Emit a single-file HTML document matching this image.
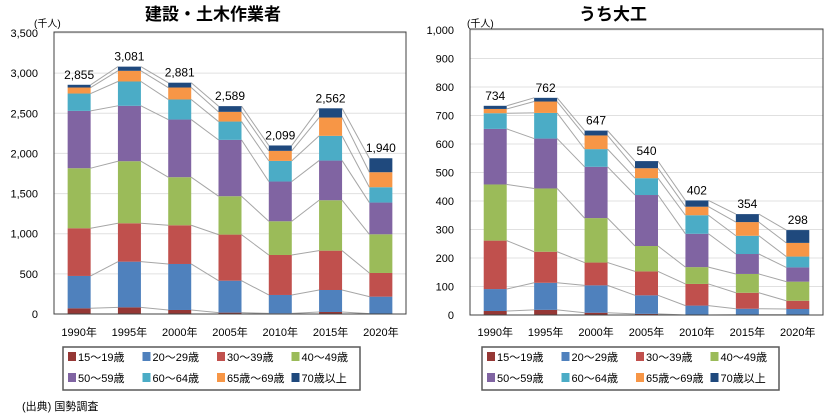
<!DOCTYPE html>
<html><head><meta charset="utf-8">
<style>
body{margin:0;background:#fff;width:832px;height:415px;overflow:hidden;font-family:"Liberation Sans","Noto Sans CJK JP",sans-serif;}
svg{position:absolute;left:0;top:0}
text{font-family:"Liberation Sans","Noto Sans CJK JP",sans-serif;}
</style></head>
<body>
<svg id="c" width="832" height="415"></svg>
<script>
const years = ["1990年","1995年","2000年","2005年","2010年","2015年","2020年"];
const ageGroups = ["15～19歳","20～29歳","30～39歳","40～49歳","50～59歳","60～64歳","65歳～69歳","70歳以上"];
const colors = ["#953735","#4F81BD","#C0504D","#9BBB59","#8064A2","#4BACC6","#F79646","#1F497D"];
// 建設・土木作業者 (thousand), series by age group across years
const lA15 = [71,83,50,17,8,25,4];
const lA20 = [403,569,573,398,229,274,212];
const lA30 = [594,478,482,574,498,490,295];
const lA40 = [748,773,599,478,420,628,482];
const lA50 = [714,690,718,702,495,494,395];
const lA60 = [216,303,250,228,257,308,191];
const lA65 = [75,133,149,121,125,228,187];
const lA70 = [34,52,60,71,67,115,174];
const leftTotals = ["2,855","3,081","2,881","2,589","2,099","2,562","1,940"];
const leftTicks = ["0","500","1,000","1,500","2,000","2,500","3,000","3,500"];
// うち大工
const rA15 = [14,18,8,4,0,1,1];
const rA20 = [77,95,96,65,33,21,20];
const rA30 = [170,109,80,84,76,56,29];
const rA40 = [197,222,156,89,59,66,67];
const rA50 = [195,175,180,179,117,70,50];
const rA60 = [55,90,62,59,65,64,38];
const rA65 = [15,40,48,35,30,48,48];
const rA70 = [11,13,17,25,22,28,45];
const rightTotals = ["734","762","647","540","402","354","298"];
const rightTicks = ["0","100","200","300","400","500","600","700","800","900","1,000"];

const NS="http://www.w3.org/2000/svg";
const svg=document.getElementById('c');
function mk(tag,attrs,parent){const e=document.createElementNS(NS,tag);for(const k in attrs)e.setAttribute(k,attrs[k]);(parent||svg).appendChild(e);return e;}

function drawChart(cfg){
  const g=mk('g',{});
  
  
  const {x0,x1,y0,y1,max,step}=cfg;
  const ys=v=>y0-(v/max)*(y0-y1);
  const t=mk('text',{x:cfg.titleX,y:20,'text-anchor':'middle','font-size':'17','font-weight':'bold',fill:'#000'},g);
  t.textContent=cfg.title;
  
  
  const u=mk('text',{x:cfg.unitX,y:27,'font-size':'10',fill:'#000'},g);
  u.textContent='(千人)';
  
  
  cfg.ticks.forEach((lab,i)=>{
    const v=i*step, y=ys(v);
    if(i>0){const gl=mk('line',{x1:x0,x2:x1,y1:y,y2:y,stroke:'#e0e0e0','stroke-width':1},g);
      
      }
    const tx=mk('text',{x:38,y:y+4,'text-anchor':'end','font-size':'11',fill:'#000'},g);
    if(cfg.offset) tx.setAttribute('x',cfg.offset+38);
    tx.textContent=lab;
    
    
  });
  const n=cfg.labels.length, slot=(x1-x0)/n, bw=23;
  const cx=i=>x0+slot*(i+0.5);
  const cum=cfg.series.map(()=>[]);
  for(let i=0;i<n;i++){let acc=0;cfg.series.forEach((s,k)=>{acc+=s[i];cum[k][i]=acc;});}
  // connector lines
  cum.forEach((c,k)=>{for(let i=0;i<n-1;i++){
    const l=mk('line',{x1:cx(i)+bw/2,y1:ys(c[i]),x2:cx(i+1)-bw/2,y2:ys(c[i+1]),stroke:'#a6a6a6','stroke-width':1},g);
    
    }});
  for(let i=0;i<n;i++){
    let base=0;
    cfg.series.forEach((s,k)=>{
      const r=mk('rect',{x:cx(i)-bw/2,y:ys(base+s[i]),width:bw,height:ys(base)-ys(base+s[i]),fill:colors[k]},g);
      
      
      base+=s[i];
    });
    const tl=mk('text',{x:cx(i),y:ys(base)-6,'text-anchor':'middle','font-size':'12',fill:'#000'},g);
    tl.textContent=cfg.totals[i];
    
    
    const xl=mk('text',{x:cx(i),y:336,'text-anchor':'middle','font-size':'11',fill:'#000'},g);
    xl.textContent=cfg.labels[i];
    
    
  }
  const b=mk('rect',{x:x0,y:y1-1,width:x1-x0,height:y0-y1+1,fill:'none',stroke:'#404040','stroke-width':1},g);
  
  
  // legend
  const lg=mk('g',{},g);
  
  
  const lb=mk('rect',{x:cfg.legX,y:347,width:297,height:43,fill:'#fff',stroke:'#595959','stroke-width':1.5},lg);
  
  
  ageGroups.forEach((a,k)=>{
    const lx=cfg.legX+5+(k%4)*74.5, ly=k<4?357:378;
    const sw=mk('rect',{x:lx,y:ly-5,width:8,height:9,fill:colors[k]},lg);
    
    
    const lt=mk('text',{x:lx+10,y:ly+4,'font-size':'11',fill:'#000'},lg);
    lt.textContent=a;
    
    
  });
}
drawChart({name:'construction-workers-chart',title:'建設・土木作業者',titleX:213,unitX:34,x0:54,x1:406,y0:314,y1:33,max:3500,step:500,ticks:leftTicks,labels:years,totals:leftTotals,series:[lA15,lA20,lA30,lA40,lA50,lA60,lA65,lA70],legX:63,offset:0});
drawChart({name:'carpenters-chart',title:'うち大工',titleX:613,unitX:467,x0:470,x1:823,y0:315,y1:30,max:1000,step:100,ticks:rightTicks,labels:years,totals:rightTotals,series:[rA15,rA20,rA30,rA40,rA50,rA60,rA65,rA70],legX:482,offset:416});
const src=mk('text',{x:22,y:410,'font-size':'11',fill:'#000'});
src.textContent='(出典) 国勢調査';


</script>
</body></html>
